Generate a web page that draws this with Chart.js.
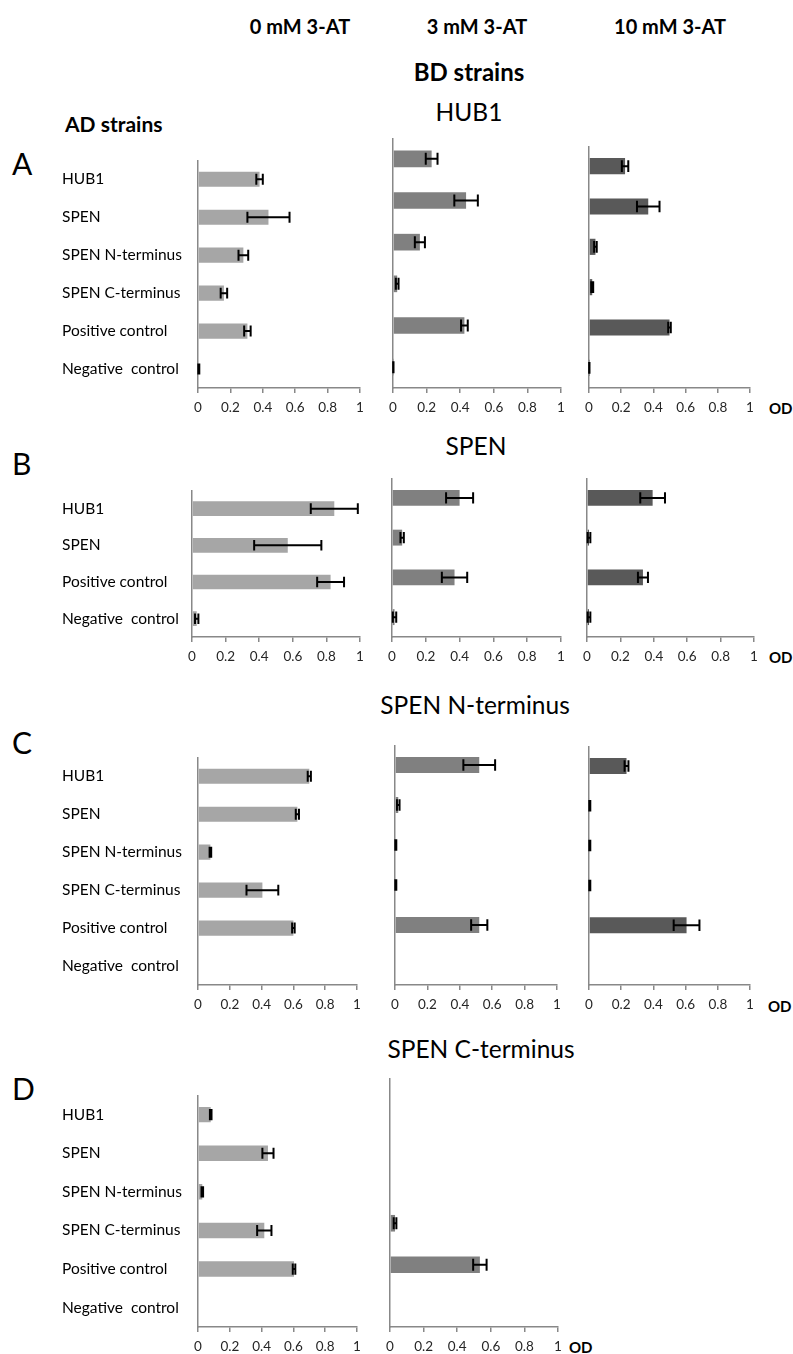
<!DOCTYPE html>
<html>
<head>
<meta charset="utf-8">
<script src="https://cdn.jsdelivr.net/npm/chart.js@4.4.1/dist/chart.umd.min.js"></script>
<style>
  body { margin: 0; background: #fff; }
  #page { position: relative; width: 793px; height: 1354px; background: #fff; font-family: Lato, 'Open Sans', sans-serif; color: #000; overflow: hidden; }
  #page canvas { position: absolute; }
  .txt { position: absolute; white-space: nowrap; line-height: 1; }
  .c { transform: translate(-50%, -50%); }
  .l { transform: translateY(-50%); }
  .b { font-weight: bold; }
</style>
</head>
<body>
<div id="page">
  <div class="txt c b" style="left:300px;top:26px;font-size:20px">0 mM 3-AT</div>
  <div class="txt c b" style="left:477px;top:26px;font-size:20px">3 mM 3-AT</div>
  <div class="txt c b" style="left:670px;top:26px;font-size:20px">10 mM 3-AT</div>
  <div class="txt c b" style="left:469px;top:72px;font-size:24px">BD strains</div>
  <div class="txt c" style="left:469px;top:112px;font-size:24.5px">HUB1</div>
  <div class="txt l b" style="left:65px;top:123px;font-size:21px">AD strains</div>
  <div class="txt l" style="left:12px;top:163px;font-size:30px">A</div>
  <div class="txt c" style="left:476px;top:446px;font-size:24.5px">SPEN</div>
  <div class="txt l" style="left:12px;top:463px;font-size:30px">B</div>
  <div class="txt c" style="left:475px;top:705px;font-size:24.5px">SPEN N-terminus</div>
  <div class="txt l" style="left:12px;top:742px;font-size:30px">C</div>
  <div class="txt c" style="left:481px;top:1049px;font-size:24.5px">SPEN C-terminus</div>
  <div class="txt l" style="left:12px;top:1088px;font-size:30px">D</div>
  <div class="txt l b" style="left:769px;top:408px;font-size:15px">OD</div>
  <div class="txt l b" style="left:769px;top:657px;font-size:15px">OD</div>
  <div class="txt l b" style="left:768px;top:1006px;font-size:15px">OD</div>
  <div class="txt l b" style="left:569px;top:1347px;font-size:15px">OD</div>
</div>
<script>
'use strict';

// AD strains on each panel
let catsSix = ['HUB1', 'SPEN', 'SPEN N-terminus', 'SPEN C-terminus', 'Positive control', 'Negative  control'];
let catsFour = ['HUB1', 'SPEN', 'Positive control', 'Negative  control'];
let odTicks = [0, 0.2, 0.4, 0.6, 0.8, 1];

// A - BD HUB1
let a0 = [0.38, 0.435, 0.28, 0.16, 0.305, 0.005];
let a0Err = [0.02, 0.13, 0.03, 0.02, 0.02, 0.003];
let a3 = [0.23, 0.435, 0.16, 0.025, 0.425, 0.002];
let a3Err = [0.035, 0.07, 0.03, 0.008, 0.02, 0.001];
let a10 = [0.224, 0.368, 0.04, 0.02, 0.5, 0.002];
let a10Err = [0.02, 0.07, 0.008, 0.006, 0.008, 0.001];

// B - BD SPEN
let b0 = [0.847, 0.57, 0.825, 0.028];
let b0Err = [0.14, 0.2, 0.08, 0.01];
let b3 = [0.4, 0.06, 0.37, 0.015];
let b3Err = [0.08, 0.01, 0.075, 0.01];
let b10 = [0.393, 0.012, 0.335, 0.012];
let b10Err = [0.074, 0.008, 0.03, 0.008];

// C - BD SPEN N-terminus
let c0 = [0.7, 0.625, 0.078, 0.405, 0.6, 0];
let c0Err = [0.01, 0.01, 0.005, 0.1, 0.008, 0];
let c3 = [0.52, 0.02, 0.005, 0.005, 0.52, 0];
let c3Err = [0.098, 0.008, 0.003, 0.003, 0.05, 0];
let c10 = [0.233, 0.005, 0.005, 0.005, 0.606, 0];
let c10Err = [0.012, 0.003, 0.003, 0.003, 0.08, 0];

// D - BD SPEN C-terminus
let d0 = [0.08, 0.44, 0.027, 0.417, 0.604, 0];
let d0Err = [0.005, 0.035, 0.005, 0.045, 0.008, 0];
let d3 = [0, 0, 0, 0.03, 0.535, 0];
let d3Err = [0, 0, 0, 0.008, 0.04, 0];

let barColors = ['#a6a6a6', '#808080', '#595959'];
let axisColor = '#888888';
let labelLeft = 62;

// draws the whiskers from the x scale
let errorBars = {
  id: 'errorBars',
  afterDatasetsDraw(chart) {
    let ctx = chart.ctx;
    let xs = chart.scales.x;
    chart.data.datasets.forEach((ds, di) => {
      let meta = chart.getDatasetMeta(di);
      meta.data.forEach((bar, i) => {
        let err = ds.errors[i];
        if (!err) return;
        let v = ds.data[i];
        let lo = xs.getPixelForValue(Math.max(v - err, 0));
        let hi = xs.getPixelForValue(v + err);
        let half = bar.height * 0.36;
        ctx.save();
        ctx.strokeStyle = '#000';
        ctx.lineWidth = 2;
        ctx.beginPath();
        ctx.moveTo(lo, bar.y);
        ctx.lineTo(hi, bar.y);
        ctx.moveTo(lo, bar.y - half);
        ctx.lineTo(lo, bar.y + half);
        ctx.moveTo(hi, bar.y - half);
        ctx.lineTo(hi, bar.y + half);
        ctx.stroke();
        ctx.restore();
      });
    });
  }
};

function drawPanel(box, labels, values, errors, colorIndex, showLabels) {
  let page = document.getElementById('page');
  let canvas = document.createElement('canvas');
  let padRight = 12;
  let leftEdge = showLabels ? labelLeft : box.x0 - 12;
  let yWidth = showLabels ? box.x0 - labelLeft : 0;
  let xHeight = 30;
  canvas.width = box.x1 - leftEdge + padRight;
  canvas.height = box.bottom - box.top + xHeight;
  canvas.style.left = leftEdge + 'px';
  canvas.style.top = box.top + 'px';
  page.appendChild(canvas);

  new Chart(canvas.getContext('2d'), {
    type: 'bar',
    data: {
      labels: labels,
      datasets: [{
        data: values,
        errors: errors,
        backgroundColor: barColors[colorIndex],
        borderWidth: 0,
        barPercentage: 0.4,
        categoryPercentage: 1
      }]
    },
    options: {
      indexAxis: 'y',
      responsive: false,
      animation: false,
      layout: { padding: { left: showLabels ? 0 : 12, right: padRight, top: 0, bottom: 0 } },
      plugins: { legend: { display: false }, tooltip: { enabled: false } },
      scales: {
        x: {
          type: 'linear',
          min: 0,
          max: 1,
          afterBuildTicks: (scale) => { scale.ticks = odTicks.map(v => ({ value: v })); },
          afterFit: (scale) => { scale.height = xHeight; },
          grid: { display: true, drawOnChartArea: false, drawTicks: true, tickLength: 5, color: axisColor, lineWidth: 1.5 },
          border: { display: true, color: axisColor, width: 1.5 },
          ticks: {
            color: '#262626',
            font: { family: 'Lato', size: 13.5 },
            padding: 7,
            maxRotation: 0,
            autoSkip: false,
            callback: (v) => String(v)
          }
        },
        y: {
          type: 'category',
          afterFit: (scale) => { scale.width = yWidth; },
          grid: { display: false },
          border: { display: true, color: axisColor, width: 1.5 },
          ticks: { display: showLabels, crossAlign: 'far', autoSkip: false, color: '#000', font: { family: 'Lato', size: 15.5 } }
        }
      }
    },
    plugins: [errorBars]
  });
}

// A
drawPanel({ x0: 198, x1: 360, top: 148, bottom: 388 }, catsSix, a0, a0Err, 0, true);
drawPanel({ x0: 393, x1: 561, top: 138, bottom: 388 }, catsSix, a3, a3Err, 1, false);
drawPanel({ x0: 589, x1: 750, top: 146, bottom: 388 }, catsSix, a10, a10Err, 2, false);
// B
drawPanel({ x0: 192, x1: 360, top: 478, bottom: 637 }, catsFour, b0, b0Err, 0, true);
drawPanel({ x0: 392, x1: 561, top: 478, bottom: 637 }, catsFour, b3, b3Err, 1, false);
drawPanel({ x0: 587, x1: 754, top: 478, bottom: 637 }, catsFour, b10, b10Err, 2, false);
// C
drawPanel({ x0: 198, x1: 357, top: 745, bottom: 985 }, catsSix, c0, c0Err, 0, true);
drawPanel({ x0: 395, x1: 557, top: 745, bottom: 985 }, catsSix, c3, c3Err, 1, false);
drawPanel({ x0: 589, x1: 750, top: 746, bottom: 985 }, catsSix, c10, c10Err, 2, false);
// D
drawPanel({ x0: 198, x1: 357, top: 1083, bottom: 1327 }, catsSix, d0, d0Err, 0, true);
drawPanel({ x0: 390, x1: 558, top: 1078, bottom: 1327 }, catsSix, d3, d3Err, 1, false);
</script>
</body>
</html>
